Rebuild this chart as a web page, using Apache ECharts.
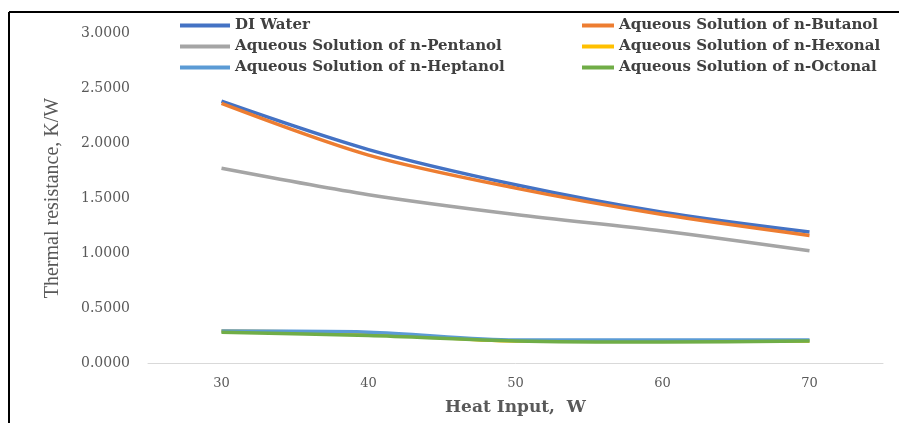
<!DOCTYPE html>
<html>
<head>
<meta charset="utf-8">
<script src="https://cdn.jsdelivr.net/npm/echarts@6/dist/echarts.min.js"></script>
<style>
html, body { margin: 0; padding: 0; background: #fff; }
#chart { width: 899px; height: 423px; }
</style>
</head>
<body>
<div id="chart"></div>
<script>
'use strict';

// data
const heatInput = ['30', '40', '50', '60', '70'];
const diWater = [2.38, 1.94, 1.62, 1.37, 1.19];
const butanol = [2.36, 1.89, 1.59, 1.35, 1.16];
const pentanol = [1.77, 1.53, 1.35, 1.20, 1.02];
const hexonal = [0.29, 0.27, 0.20, 0.20, 0.20];
const heptanol = [0.29, 0.28, 0.21, 0.21, 0.21];
const octonal = [0.28, 0.25, 0.20, 0.19, 0.20];

const seriesDefs = [
    { name: 'DI Water', data: diWater, color: '#4472C4' },
    { name: 'Aqueous Solution of n-Butanol', data: butanol, color: '#ED7D31' },
    { name: 'Aqueous Solution of n-Pentanol', data: pentanol, color: '#A5A5A5' },
    { name: 'Aqueous Solution of n-Hexonal', data: hexonal, color: '#FFC000' },
    { name: 'Aqueous Solution of n-Heptanol', data: heptanol, color: '#5B9BD5' },
    { name: 'Aqueous Solution of n-Octonal', data: octonal, color: '#70AD47' }
];

const chart = echarts.init(document.getElementById('chart'));
const serif = 'Liberation Serif';
const wideSerif = 'DejaVu Serif';

const series = seriesDefs.map(s => ({
    name: s.name,
    type: 'line',
    data: s.data,
    smooth: 0.3,
    symbol: 'none',
    color: s.color,
    lineStyle: { width: 3.5, color: s.color }
}));

const legendText = {
    fontFamily: wideSerif,
    fontWeight: 'bold',
    fontSize: 15,
    color: '#404040'
};

const option = {
    animation: false,
    backgroundColor: '#fff',
    legend: [{
        left: 175,
        top: 13,
        orient: 'vertical',
        icon: 'rect',
        itemWidth: 50,
        itemHeight: 4,
        itemGap: 6,
        textStyle: legendText,
        data: ['DI Water', 'Aqueous Solution of n-Pentanol', 'Aqueous Solution of n-Heptanol']
    }, {
        left: 577,
        top: 13,
        orient: 'vertical',
        icon: 'rect',
        itemWidth: 32,
        itemHeight: 4,
        itemGap: 6,
        textStyle: legendText,
        data: ['Aqueous Solution of n-Butanol', 'Aqueous Solution of n-Hexonal', 'Aqueous Solution of n-Octonal']
    }],
    grid: { left: 148, right: 16, top: 33, bottom: 60 },
    xAxis: {
        type: 'category',
        data: heatInput,
        name: 'Heat Input,  W',
        nameLocation: 'middle',
        nameGap: 36,
        nameTextStyle: { fontFamily: wideSerif, fontWeight: 'bold', fontSize: 17, color: '#595959' },
        axisLine: { lineStyle: { color: '#D9D9D9', width: 1 } },
        axisTick: { show: false },
        axisLabel: { margin: 14, fontFamily: wideSerif, fontSize: 13, color: '#595959' }
    },
    yAxis: {
        type: 'value',
        min: 0,
        max: 3,
        interval: 0.5,
        name: 'Thermal resistance, K/W',
        nameLocation: 'middle',
        nameGap: 85,
        nameTextStyle: { fontFamily: serif, fontSize: 20, color: '#595959' },
        splitLine: { show: false },
        axisLine: { show: false },
        axisLabel: {
            margin: 18,
            fontFamily: wideSerif,
            fontSize: 14,
            color: '#595959',
            formatter: v => v.toFixed(4)
        }
    },
    graphic: [
        { type: 'line', shape: { x1: 9, y1: 12, x2: 899, y2: 12 }, style: { stroke: '#000', lineWidth: 2 } },
        { type: 'line', shape: { x1: 9, y1: 12, x2: 9, y2: 423 }, style: { stroke: '#000', lineWidth: 2 } }
    ],
    series: series
};

chart.setOption(option);
</script>
</body>
</html>
